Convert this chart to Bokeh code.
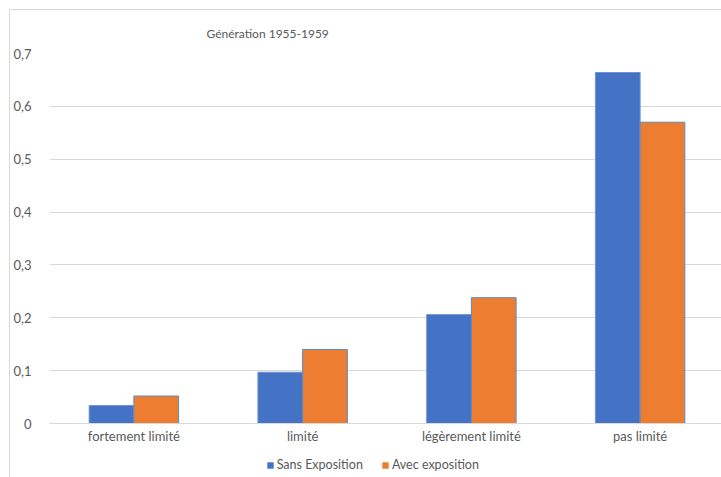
from bokeh.plotting import figure
from bokeh.layouts import column
from bokeh.models import ColumnDataSource, FactorRange, Legend, LegendItem, CustomJSTickFormatter, Range1d
from bokeh.transform import dodge
from bokeh.embed import file_html
from bokeh.resources import INLINE

categories = ["fortement limité", "limité", "légèrement limité", "pas limité"]
sans_exposition = [0.034, 0.097, 0.206, 0.664]
avec_exposition = [0.052, 0.140, 0.238, 0.570]
series_names = ["Sans Exposition", "Avec exposition"]
title_text = "Génération 1955-1959"

FONT = "Lato"
TXT = "#595959"
BLUE = "#4472C4"
ORANGE = "#ED7D31"

src = ColumnDataSource(dict(cat=categories, sans=sans_exposition, avec=avec_exposition))

p = figure(x_range=FactorRange(*categories), y_range=Range1d(0, 0.7),
           frame_width=675, frame_height=370, output_backend="svg", toolbar_location=None,
           min_border_left=35, min_border_right=0, min_border_top=41, min_border_bottom=28)

p.title.text = title_text
p.title.text_font = FONT
p.title.text_font_size = "12px"
p.title.text_font_style = "normal"
p.title.text_color = TXT
p.title.align = "left"
p.title.offset = 157
p.title.standoff = 26

bw = 0.265
r1 = p.vbar(x=dodge("cat", -bw / 2, range=p.x_range), top="sans", width=bw, source=src,
            fill_color=BLUE, line_color="#6f93d3", line_width=1)
r2 = p.vbar(x=dodge("cat", bw / 2, range=p.x_range), top="avec", width=bw, source=src,
            fill_color=ORANGE, line_color="#5a8ac6", line_width=1)

p.outline_line_color = None
p.xgrid.grid_line_color = None
p.ygrid.grid_line_color = "#d9d9d9"
p.ygrid.grid_line_width = 1
p.yaxis.ticker = [0, 0.1, 0.2, 0.3, 0.4, 0.5, 0.6, 0.7]
p.yaxis.formatter = CustomJSTickFormatter(code="return tick == 0 ? '0' : tick.toFixed(1).replace('.', ',');")
p.yaxis.axis_line_color = None
p.yaxis.major_tick_line_color = None
p.yaxis.minor_tick_line_color = None
p.yaxis.major_label_standoff = 12
p.xaxis.axis_line_color = "#d9d9d9"
p.xaxis.major_tick_line_color = None
p.xaxis.minor_tick_line_color = None
p.xaxis.major_tick_out = 0
p.xaxis.major_tick_in = 0
p.xaxis.major_label_standoff = 4
for ax in (p.xaxis, p.yaxis):
    ax.major_label_text_font = FONT
    ax.major_label_text_font_size = "13px"
    ax.major_label_text_color = TXT

# legend strip below the chart (bars there lie outside its view)
lg = figure(x_range=p.x_range, y_range=Range1d(10, 11),
            frame_width=675, frame_height=26, output_backend="svg", toolbar_location=None,
            min_border_left=35, min_border_right=0, min_border_top=0, min_border_bottom=0,
            x_axis_location=None, y_axis_location=None)
lg.xgrid.grid_line_color = None
lg.ygrid.grid_line_color = None
lg.outline_line_color = None
l1 = lg.vbar(x=dodge("cat", -bw / 2, range=lg.x_range), top="sans", width=bw, source=src,
             fill_color=BLUE, line_color=None)
l2 = lg.vbar(x=dodge("cat", bw / 2, range=lg.x_range), top="avec", width=bw, source=src,
             fill_color=ORANGE, line_color=None)
legend = Legend(items=[LegendItem(label=series_names[0], renderers=[l1]),
                       LegendItem(label=series_names[1], renderers=[l2])],
                orientation="horizontal", location=(244, 5),
                label_text_font=FONT, label_text_font_size="12.5px", label_text_color=TXT,
                glyph_width=8, glyph_height=8, label_standoff=3, spacing=18, label_height=12,
                border_line_color=None, background_fill_alpha=0, margin=0, padding=2)
lg.add_layout(legend, "center")

layout = column(p, lg, spacing=0,
                styles={"margin-left": "9px", "margin-top": "9px",
                        "border-left": "1px solid #d9d9d9", "border-top": "1px solid #d9d9d9"})

open("out.html", "w").write(file_html(layout, INLINE))
